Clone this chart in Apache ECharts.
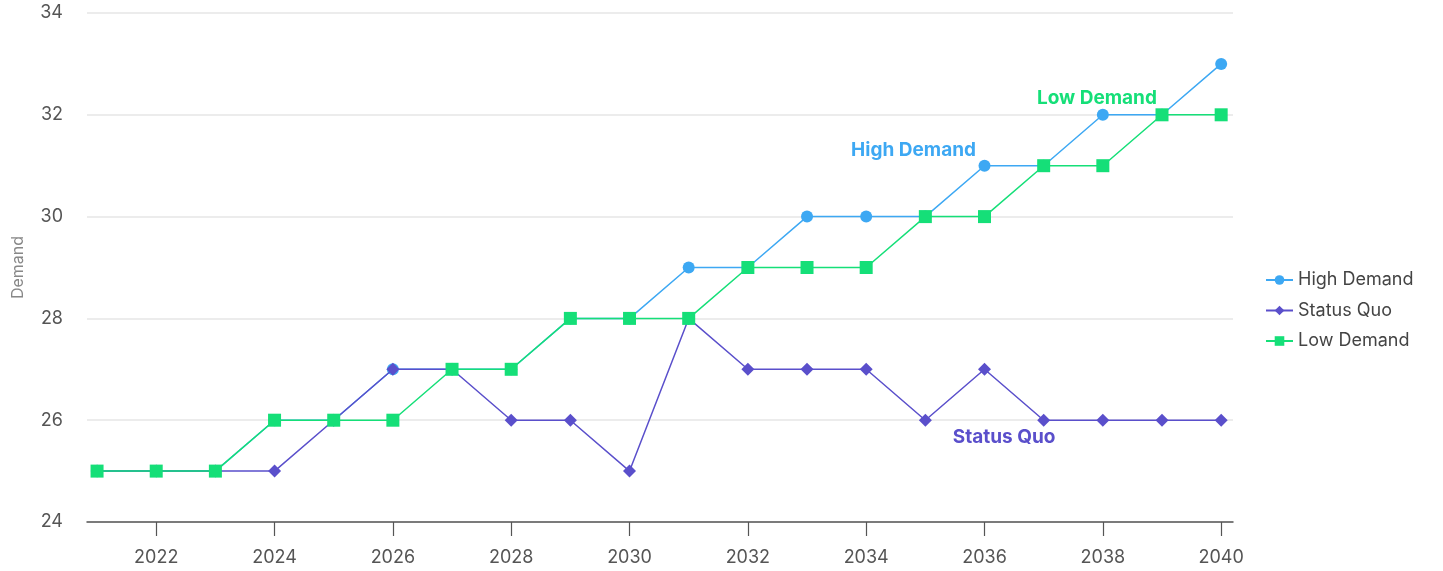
<!DOCTYPE html>
<html>
<head>
<meta charset="utf-8">
<script src="https://cdn.jsdelivr.net/npm/echarts@6/dist/echarts.min.js"></script>
<style>
html, body { margin: 0; padding: 0; background: #fff; }
#main { width: 1443px; height: 571px; }
</style>
</head>
<body>
<div id="main"></div>
<script>
var years = [2021, 2022, 2023, 2024, 2025, 2026, 2027, 2028, 2029, 2030,
	2031, 2032, 2033, 2034, 2035, 2036, 2037, 2038, 2039, 2040];
var highDemand = [25, 25, 25, 26, 26, 27, 27, 27, 28, 28, 29, 29, 30, 30, 30, 31, 31, 32, 32, 33];
var statusQuo = [25, 25, 25, 25, 26, 27, 27, 26, 26, 25, 28, 27, 27, 27, 26, 27, 26, 26, 26, 26];
var lowDemand = [25, 25, 25, 26, 26, 26, 27, 27, 28, 28, 28, 29, 29, 29, 30, 30, 31, 31, 32, 32];
var firstTick = 2022;
var lastTick = 2040;

var font = 'Inter, "Noto Sans", sans-serif';

// 主坐标轴范围（两端留一点空白）
var xMin = 2020.83;
var xMax = 2040.2;
var plotLeft = 87;
var plotRight = 210;
var plotW = 1443 - plotLeft - plotRight;

function pairs(vals) {
	var out = [];
	for (var i = 0; i < years.length; i++) {
		out.push([years[i], vals[i]]);
	}
	return out;
}

function px(year) {
	return plotLeft + (year - xMin) / (xMax - xMin) * plotW;
}

// 系列上的文字标注
function tag(name, coord, color) {
	return {
		symbol: 'rect',
		symbolSize: [2, 2],
		silent: true,
		itemStyle: { color: 'rgba(0,0,0,0)' },
		data: [{ coord: coord, value: name }],
		label: {
			show: true,
			position: 'inside',
			formatter: name,
			color: color,
			fontFamily: font,
			fontWeight: 'bold',
			fontSize: 19
		}
	};
}

var chart = echarts.init(document.getElementById('main'));
chart.setOption({
	animation: false,
	textStyle: { fontFamily: font },
	grid: [
		{ left: plotLeft, right: plotRight, top: 13, bottom: 49, outerBoundsMode: 'none', containLabel: false },
		// 刻度用的网格：从第一个刻度到最后一个刻度
		{ left: px(firstTick), right: 1443 - px(lastTick), top: 13, bottom: 49, outerBoundsMode: 'none', containLabel: false }
	],
	legend: {
		orient: 'vertical',
		left: 1260,
		top: 266,
		itemGap: 12.5,
		itemWidth: 27,
		itemHeight: 12,
		textStyle: { fontSize: 18, color: '#444', fontFamily: font, lineHeight: 18 },
		data: ['High Demand', 'Status Quo', 'Low Demand']
	},
	xAxis: [
		{
			type: 'value',
			gridIndex: 0,
			min: xMin,
			max: xMax,
			axisLine: { lineStyle: { color: '#555', width: 1.5 } },
			axisTick: { show: false },
			axisLabel: { show: false },
			splitLine: { show: false }
		},
		{
			type: 'value',
			gridIndex: 1,
			min: firstTick,
			max: lastTick,
			interval: 2,
			axisLine: { show: false },
			axisTick: { show: true, length: 14, lineStyle: { color: '#555', width: 1.2 } },
			axisLabel: { color: '#555', fontSize: 18, margin: 27, formatter: function (v) { return String(v); } },
			splitLine: { show: false }
		}
	],
	yAxis: [
		{
			type: 'value',
			gridIndex: 0,
			min: 24,
			max: 34,
			interval: 2,
			name: 'Demand',
			nameLocation: 'middle',
			nameGap: 61,
			nameTextStyle: { color: '#888', fontSize: 16 },
			axisLine: { show: false },
			axisTick: { show: false },
			axisLabel: { color: '#555', fontSize: 18, margin: 24 },
			splitLine: { lineStyle: { color: '#e6e6e6', width: 1.5 } }
		},
		{
			type: 'value',
			gridIndex: 1,
			min: 24,
			max: 34,
			show: false
		}
	],
	series: [
		{
			name: 'High Demand',
			type: 'line',
			data: pairs(highDemand),
			symbol: 'circle',
			symbolSize: 12,
			color: '#3da8f3',
			lineStyle: { width: 1.5 },
			markPoint: tag('High Demand', [2034.8, 31.3], '#3da8f3'),
			z: 2
		},
		{
			name: 'Status Quo',
			type: 'line',
			data: pairs(statusQuo),
			symbol: 'diamond',
			symbolSize: 13,
			color: '#5a4fcb',
			lineStyle: { width: 1.5 },
			markPoint: tag('Status Quo', [2036.33, 25.67], '#5a4fcb'),
			z: 3
		},
		{
			name: 'Low Demand',
			type: 'line',
			data: pairs(lowDemand),
			symbol: 'rect',
			symbolSize: 13,
			color: '#15df78',
			lineStyle: { width: 1.5 },
			markPoint: tag('Low Demand', [2037.9, 32.33], '#15df78'),
			z: 4
		}
	]
});
</script>
</body>
</html>
